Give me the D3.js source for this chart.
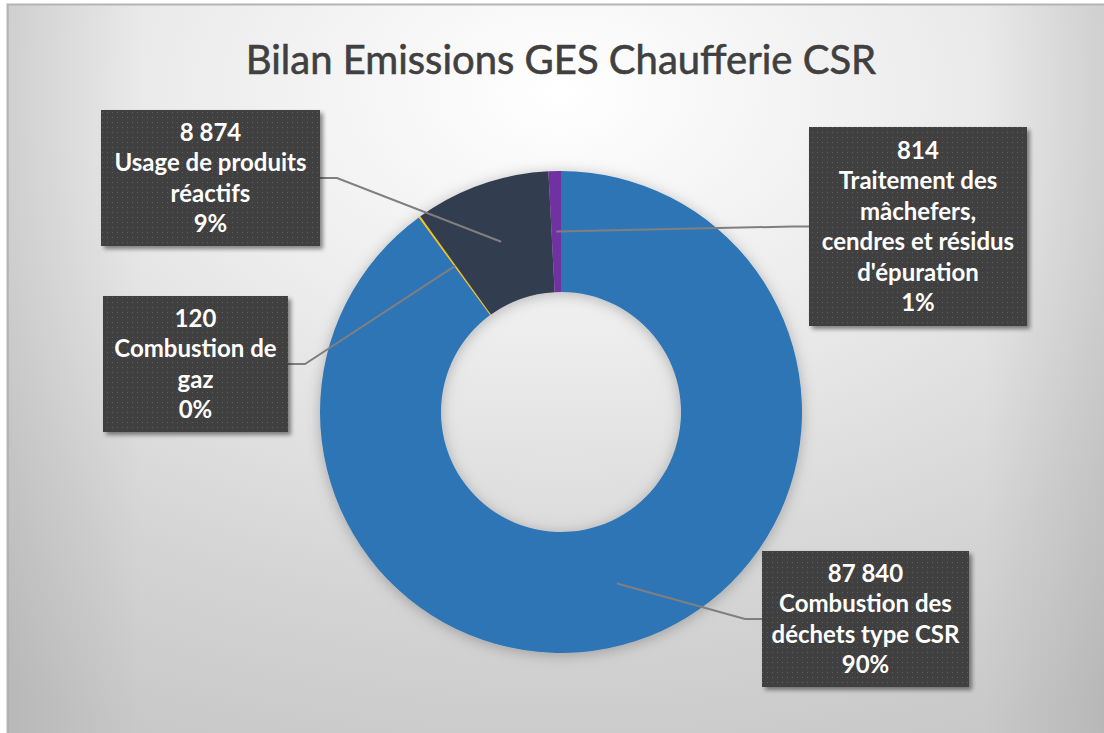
<!DOCTYPE html>
<html>
<head>
<meta charset="utf-8">
<script src="https://cdn.jsdelivr.net/npm/d3@7"></script>
<style>
  body { margin: 0; background: #ffffff; }
  svg { display: block; }
</style>
</head>
<body>
<svg id="chart"></svg>
<script>
  const title = 'Bilan Emissions GES Chaufferie CSR';
  const categories = [
    'Combustion des déchets type CSR',
    'Combustion de gaz',
    'Usage de produits réactifs',
    "Traitement des mâchefers, cendres et résidus d'épuration"
  ];
  // how each category name wraps inside its label box
  const categoryLines = [
    ['Combustion des', 'déchets type CSR'],
    ['Combustion de', 'gaz'],
    ['Usage de produits', 'réactifs'],
    ['Traitement des', 'mâchefers,', 'cendres et résidus', "d'épuration"]
  ];
  const values = [87840, 120, 8874, 814];
  const colors = ['#2E75B6', '#FFC000', '#323E4F', '#7030A0'];

  (function(){
    let width = 1104, height = 733;
    let cx = 561, cy = 412, outerR = 241, innerR = 120;
    let lineH = 30.5, fontSize = 24;

    // label boxes, leader line enters on the given side
    let boxes = [
      {x: 762, y: 551, w: 207, h: 136, side: 'left'},
      {x: 103, y: 296, w: 185, h: 136, side: 'right'},
      {x: 101, y: 110, w: 219, h: 136, side: 'right'},
      {x: 809, y: 127, w: 218, h: 199, side: 'left'}
    ];

    let svg = d3.select('svg#chart')
        .attr('width', width)
        .attr('height', height);

    let defs = svg.append('defs');

    let bg = defs.append('radialGradient')
        .attr('id', 'bg-grad')
        .attr('cx', 0.5).attr('cy', 0.12).attr('r', 0.95);
    bg.append('stop').attr('offset', 0).attr('stop-color', '#ffffff');
    bg.append('stop').attr('offset', 0.35).attr('stop-color', '#ededed');
    bg.append('stop').attr('offset', 0.75).attr('stop-color', '#d4d4d4');
    bg.append('stop').attr('offset', 1).attr('stop-color', '#c8c8c8');

    let edge = defs.append('linearGradient')
        .attr('id', 'edge-grad')
        .attr('x1', 0).attr('x2', 1).attr('y1', 0).attr('y2', 0);
    [[0, 0.08], [0.12, 0], [0.88, 0], [1, 0.09]].forEach(s => {
      edge.append('stop').attr('offset', s[0]).attr('stop-color', '#000').attr('stop-opacity', s[1]);
    });

    let dots = defs.append('pattern')
        .attr('id', 'dots')
        .attr('width', 5).attr('height', 5)
        .attr('patternUnits', 'userSpaceOnUse');
    dots.append('rect').attr('width', 5).attr('height', 5).attr('fill', '#3f3f3f');
    dots.append('rect').attr('x', 2).attr('y', 2).attr('width', 1).attr('height', 1).attr('fill', '#5e5e5e');

    defs.append('filter').attr('id', 'ring-shadow')
        .attr('x', '-20%').attr('y', '-20%').attr('width', '140%').attr('height', '140%')
      .append('feDropShadow')
        .attr('dx', 0).attr('dy', 2).attr('stdDeviation', 7)
        .attr('flood-color', '#000').attr('flood-opacity', 0.25);

    defs.append('filter').attr('id', 'box-shadow')
        .attr('x', '-10%').attr('y', '-10%').attr('width', '125%').attr('height', '125%')
      .append('feDropShadow')
        .attr('dx', 3).attr('dy', 3).attr('stdDeviation', 2)
        .attr('flood-color', '#000').attr('flood-opacity', 0.45);

    // chart area, runs off the right and bottom of the picture
    svg.append('rect')
        .attr('x', 7.5).attr('y', 4.5)
        .attr('width', width).attr('height', height)
        .attr('fill', 'url(#bg-grad)')
        .attr('stroke', '#b4b4b4')
        .attr('stroke-width', 2);
    svg.append('rect')
        .attr('x', 8).attr('y', 5.5)
        .attr('width', width + 6).attr('height', height)
        .attr('fill', 'url(#edge-grad)');

    svg.append('text')
        .attr('x', cx)
        .attr('y', 74)
        .attr('text-anchor', 'middle')
        .attr('font-family', 'Lato, "Open Sans", sans-serif')
        .attr('font-size', 40)
        .attr('fill', '#404040')
        .attr('stroke', '#404040')
        .attr('stroke-width', 0.6)
        .text(title);

    let total = d3.sum(values);
    let fmt = d3.formatLocale({decimal: ',', thousands: ' ', grouping: [3], currency: ['', '']}).format(',d');

    let pie = d3.pie().sort(null).value(d => d);
    let arcs = pie(values);
    let arc = d3.arc().innerRadius(innerR).outerRadius(outerR);

    let donut = svg.append('g')
        .attr('transform', `translate(${cx},${cy})`)
        .attr('filter', 'url(#ring-shadow)');

    donut.selectAll('path')
      .data(arcs)
      .enter().append('path')
        .attr('d', arc)
        .attr('fill', (d, i) => colors[i]);

    // leader lines from slice centroid to label box
    let leaders = svg.append('g')
        .attr('fill', 'none')
        .attr('stroke', '#7f7f7f')
        .attr('stroke-width', 2);

    arcs.forEach((d, i) => {
      let c = arc.centroid(d);
      let b = boxes[i];
      let ey = b.y + b.h / 2;
      let ex = b.side === 'left' ? b.x : b.x + b.w;
      let kx = b.side === 'left' ? ex - 17 : ex + 17;
      leaders.append('path')
          .attr('d', d3.line()([[cx + c[0], cy + c[1]], [kx, ey], [ex, ey]]));
    });

    // label boxes
    let labels = svg.append('g')
        .attr('font-family', 'Lato, "Open Sans", sans-serif')
        .attr('font-weight', 'bold')
        .attr('font-size', fontSize)
        .attr('fill', '#ffffff')
        .attr('text-anchor', 'middle');

    values.forEach((v, i) => {
      let b = boxes[i];
      let lines = [fmt(v)].concat(categoryLines[i], [Math.round(v / total * 100) + '%']);
      let g = labels.append('g');
      g.append('rect')
          .attr('x', b.x).attr('y', b.y)
          .attr('width', b.w).attr('height', b.h)
          .attr('fill', 'url(#dots)')
          .attr('filter', 'url(#box-shadow)');
      let top = b.y + b.h / 2 - (lines.length - 1) * lineH / 2;
      g.selectAll('text')
        .data(lines)
        .enter().append('text')
          .attr('x', b.x + b.w / 2)
          .attr('y', (d, j) => top + j * lineH + fontSize * 0.36)
          .text(d => d);
    });
  })();
</script>
</body>
</html>
